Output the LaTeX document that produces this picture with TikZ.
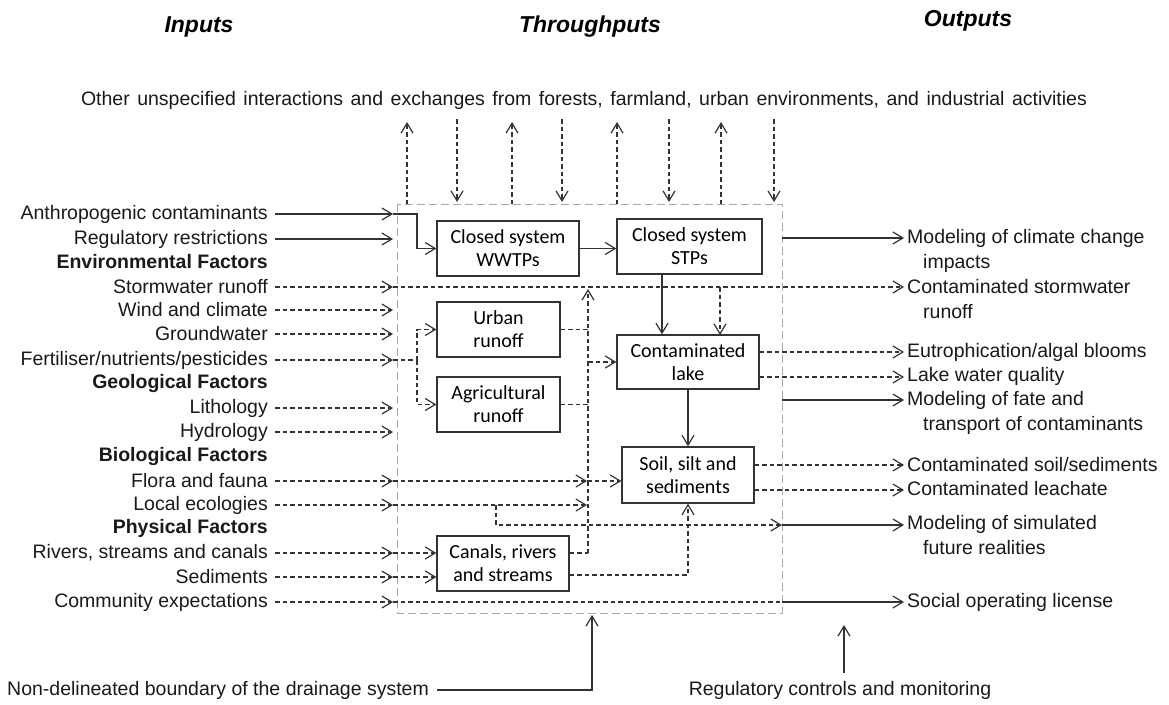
\documentclass[tikz,border=0pt]{standalone}
\usepackage{fontspec}
\setmainfont{Liberation Sans}
\newfontfamily\boxfont{Carlito}
\usetikzlibrary{arrows.meta,calc}
\definecolor{ln}{HTML}{333333}
\definecolor{bx}{HTML}{A8A8A8}
\begin{document}
\begin{tikzpicture}[x=1pt,y=-1pt,
  >={Straight Barb[length=10pt,width=12pt,line width=1.2pt]},
  lab/.style={inner sep=0pt,font=\fontsize{19.5}{25}\selectfont,text=black!90},
  ttl/.style={inner sep=0pt,font=\fontsize{23}{26}\selectfont\bfseries\itshape},
  proc/.style={draw=ln,line width=1.3pt,inner sep=0pt,align=center,font=\boxfont\fontsize{20}{23}\selectfont},
  sarr/.style={->,draw=ln,line width=1.2pt},
  sln/.style={draw=ln,line width=1.2pt},
  darr/.style={->,draw=ln,line width=1.1pt,dash pattern=on 4.5pt off 3pt},
  dln/.style={draw=ln,line width=1.1pt,dash pattern=on 4.5pt off 3pt},
]
\useasboundingbox (0,0) rectangle (1169,704);
% boundary
\draw[bx,line width=1pt,dash pattern=on 8pt off 4pt] (397,204) rectangle (782,613);
% titles
\node[ttl] (tin) at (199,27) {Inputs};
\node[ttl] (tth) at (590,27) {Throughputs};
\node[ttl] (tout) at (968,21) {Outputs};
\node[lab] (other) at (584,100) {\spaceskip=7.5pt plus 1pt Other unspecified interactions and exchanges from forests, farmland, urban environments, and industrial activities};
% top arrows
\foreach \x in {407,512,617,721} \draw[darr] (\x,204) -- (\x,122);
\foreach \x in {457,562,669,774} \draw[darr] (\x,119) -- (\x,202);
% boxes
\node[proc,minimum width=142pt,minimum height=55pt] (wwtp) at (508,248.5) {Closed system\\WWTPs};
\node[proc,minimum width=145pt,minimum height=55pt] (stp) at (689.5,246.5) {Closed system\\STPs};
\node[proc,minimum width=123pt,minimum height=55pt] (urban) at (498.5,329.5) {Urban\\runoff};
\node[proc,minimum width=123pt,minimum height=55pt] (agri) at (498.5,404.5) {Agricultural\\runoff};
\node[proc,minimum width=142pt,minimum height=54pt] (lake) at (688,362) {Contaminated\\lake};
\node[proc,minimum width=132pt,minimum height=56pt] (soil) at (688,475) {Soil, silt and\\sediments};
\node[proc,minimum width=132pt,minimum height=55pt] (canal) at (503,563.5) {Canals, rivers\\and streams};
% left labels
\node[lab,anchor=east] (l1) at (268,214) {Anthropogenic contaminants};
\node[lab,anchor=east] (l2) at (268,239) {Regulatory restrictions};
\node[lab,anchor=east] (l3) at (268,262) {\bfseries Environmental Factors};
\node[lab,anchor=east] (l4) at (268,287) {Stormwater runoff};
\node[lab,anchor=east] (l5) at (268,310) {Wind and climate};
\node[lab,anchor=east] (l6) at (268,334) {Groundwater};
\node[lab,anchor=east] (l7) at (268,360) {Fertiliser/nutrients/pesticides};
\node[lab,anchor=east] (l8) at (268,383) {\bfseries Geological Factors};
\node[lab,anchor=east] (l9) at (268,408) {Lithology};
\node[lab,anchor=east] (l10) at (268,432) {Hydrology};
\node[lab,anchor=east] (l11) at (268,456) {\bfseries Biological Factors};
\node[lab,anchor=east] (l12) at (268,481) {Flora and fauna};
\node[lab,anchor=east] (l13) at (268,505) {Local ecologies};
\node[lab,anchor=east] (l14) at (268,528) {\bfseries Physical Factors};
\node[lab,anchor=east] (l15) at (268,553) {Rivers, streams and canals};
\node[lab,anchor=east] (l16) at (268,577) {Sediments};
\node[lab,anchor=east] (l17) at (268,602) {Community expectations};
% right labels
\node[lab,anchor=west,align=left] (r1) at (907,250.5) {Modeling of climate change\\\hspace*{16pt}impacts};
\node[lab,anchor=west,align=left] (r2) at (907,299.5) {Contaminated stormwater\\\hspace*{16pt}runoff};
\node[lab,anchor=west] (r3) at (907,352) {Eutrophication/algal blooms};
\node[lab,anchor=west] (r4) at (907,376) {Lake water quality};
\node[lab,anchor=west,align=left] (r5) at (907,412.5) {Modeling of fate and\\\hspace*{16pt}transport of contaminants};
\node[lab,anchor=west] (r6) at (907,465) {Contaminated soil/sediments};
\node[lab,anchor=west] (r7) at (907,489) {Contaminated leachate};
\node[lab,anchor=west,align=left] (r8) at (907,535.5) {Modeling of simulated\\\hspace*{16pt}future realities};
\node[lab,anchor=west] (r9) at (907,602) {Social operating license};
% bottom labels
\node[lab,anchor=west] (nd) at (7,690) {Non-delineated boundary of the drainage system};
\node[lab] (rc) at (840,690) {Regulatory controls and monitoring};
% coordinates
\coordinate (in) at (393,0);
\coordinate (vx) at (588,0);
\coordinate (bxr) at (782,0);
\coordinate (out) at (904,0);
% solid inputs
\draw[sarr] ([xshift=7pt]l1.east) -- (l1.east -| in);
\draw[sarr] (l1.east -| in) -- (417,214) |- (wwtp.west);
\draw[sarr] ([xshift=7pt]l2.east) -- (l2.east -| in);
% dashed inputs to boundary
\foreach \n in {l4,l5,l6,l7,l9,l10,l12,l13,l15,l16,l17}
  \draw[darr] ([xshift=7pt]\n.east) -- (\n.east -| in);
% stormwater through
\draw[darr] (l4.east -| in) -- (l4.east -| out);
% fertiliser
\draw[dln] (l7.east -| in) -- (417,360);
\draw[darr] (417,360) |- (urban.west);
\draw[darr] (417,360) |- (agri.west);
% runoff to lake
\draw[dln] (urban.east) -- (urban.east -| vx);
\draw[dln] (agri.east) -- (agri.east -| vx);
\draw[dln] ([yshift=10.5pt]canal.east) -- ([yshift=10.5pt]canal.east -| vx);
\draw[darr] ([yshift=10.5pt]canal.east -| vx) -- (588,289);
\draw[darr] (lake.west -| vx) -- (lake.west);
% rivers & sediments
\draw[darr] (l15.east -| in) -- (l15.east -| canal.west);
\draw[darr] (l16.east -| in) -- (l16.east -| canal.west);
\draw[darr] ([yshift=-11.5pt]canal.east) -| (soil.south);
% flora, ecologies
\draw[darr] (l12.east -| in) -- (587,481);
\draw[darr] (587,481) -- (l12.east -| soil.west);
\draw[darr] (l13.east -| in) -- (587,505);
\draw[darr] (496,505) |- (782,525);
\draw[sarr] (782,525) -- (904,525);
% community
\draw[dln] (l17.east -| in) -- (l17.east -| bxr);
\draw[sarr] (l17.east -| bxr) -- (l17.east -| out);
% internal
\draw[sarr] (wwtp.east) -- (wwtp.east -| stp.west);
\draw[sarr] ([xshift=-27.5pt]stp.south) -- ([xshift=-27.5pt]stp.south |- lake.north);
\draw[darr] (720,287) -- (720,335);
\draw[sarr] (lake.south) -- (soil.north);
% outputs
\draw[sarr] (782,238) -- (904,238);
\draw[darr] ([yshift=10pt]lake.east) -- ([yshift=10pt]lake.east -| out);
\draw[darr] ([yshift=-15pt]lake.east) -- ([yshift=-15pt]lake.east -| out);
\draw[sarr] (782,400) -- (904,400);
\draw[darr] ([yshift=10pt]soil.east) -- ([yshift=10pt]soil.east -| out);
\draw[darr] ([yshift=-15pt]soil.east) -- ([yshift=-15pt]soil.east -| out);
% bottom
\draw[sarr] ([xshift=8pt]nd.east) -- (592,690) -- (592,615);
\draw[sarr] (844,673) -- (844,625);
\end{tikzpicture}
\end{document}
